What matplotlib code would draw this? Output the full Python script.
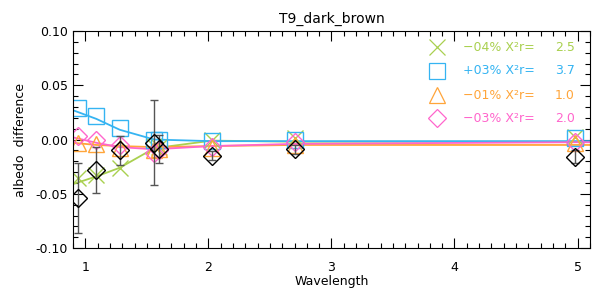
import numpy as np
import matplotlib
matplotlib.use("Agg")
import matplotlib.pyplot as plt
from matplotlib.ticker import MultipleLocator

# ---------------- data ----------------
wave = [0.94, 1.09, 1.28, 1.56, 1.60, 2.03, 2.70, 4.98]

obs     = [-0.054, -0.028, -0.010, -0.003, -0.009, -0.015, -0.009, -0.016]
obs_err = [0.032, 0.021, 0.013, 0.039, 0.013, 0.004, 0.004, 0.006]

green  = [-0.035, -0.033, -0.026, -0.006, -0.007, 0.000, 0.001, 0.002]
blue   = [0.029, 0.022, 0.011, 0.000, 0.000, -0.001, 0.000, 0.001]
orange = [-0.003, -0.004, -0.008, -0.010, -0.009, -0.008, -0.005, -0.003]
pink   = [0.003, 0.000, -0.005, -0.012, -0.010, -0.007, -0.002, -0.002]

# model curves
wave_mod   = [0.90, 1.09, 1.28, 1.56, 2.03, 2.70, 4.98, 5.10]
green_mod  = [-0.041, -0.034, -0.026, -0.008, -0.001, -0.002, -0.002, -0.002]
blue_mod   = [0.027, 0.019, 0.009, 0.000, -0.0015, -0.0015, -0.0015, -0.0015]
orange_mod = [-0.003, -0.005, -0.006, -0.007, -0.006, -0.005, -0.005, -0.005]
pink_mod   = [0.002, -0.003, -0.007, -0.009, -0.006, -0.004, -0.0025, -0.0025]

legend_pct  = ["\u221204%", "+03%", "\u221201%", "\u221203%"]
legend_chi2 = ["2.5", "3.7", "1.0", "2.0"]

c_green = "#a9d04f"
c_blue = "#35b4f2"
c_orange = "#ffa53a"
c_pink = "#ff66cc"

plt.rcParams["font.family"] = "DejaVu Sans"

fig = plt.figure(figsize=(5.97, 2.95), dpi=100)
ax = fig.add_axes([0.1223, 0.159, 0.8657, 0.736])

lw = 1.3
ax.plot(wave_mod, green_mod, color=c_green, lw=lw)
ax.plot(wave_mod, blue_mod, color=c_blue, lw=lw)
ax.plot(wave_mod, orange_mod, color=c_orange, lw=lw)
ax.plot(wave_mod, pink_mod, color=c_pink, lw=lw)

ms = 11
ax.plot(wave, green, ls="none", marker="x", ms=ms, mew=1.0, color=c_green)
ax.plot(wave, blue, ls="none", marker="s", ms=ms, mew=1.0, mfc="none", mec=c_blue)
ax.plot(wave, orange, ls="none", marker="^", ms=ms, mew=1.0, mfc="none", mec=c_orange)
ax.plot(wave, pink, ls="none", marker="D", ms=ms * 0.8, mew=1.0, mfc="none", mec=c_pink)

ax.errorbar(wave, obs, yerr=obs_err, fmt="none", ecolor="#555555", elinewidth=1.0,
            capsize=3, capthick=1.0)
ax.plot(wave, obs, ls="none", marker="D", ms=ms * 0.8, mew=1.0, mfc="none", mec="black")

# legend written as text, IDL style
colors = [c_green, c_blue, c_orange, c_pink]
markers = ["x", "s", "^", "D"]
rows = [0.926, 0.816, 0.705, 0.599]
for i in range(4):
    yf = rows[i]
    ax.plot([0.704], [yf], transform=ax.transAxes, marker=markers[i], ms=ms if i < 3 else ms * 0.8,
            mew=0.9, mfc="none", mec=colors[i], color=colors[i], ls="none", clip_on=False)
    ax.text(0.754, yf, legend_pct[i] + " X\u00b2r=", transform=ax.transAxes, color=colors[i],
            fontsize=9, va="center", ha="left")
    ax.text(0.971, yf, legend_chi2[i], transform=ax.transAxes, color=colors[i],
            fontsize=9, va="center", ha="right")

ax.set_xlim(0.9, 5.1)
ax.set_ylim(-0.1, 0.1)
ax.xaxis.set_major_locator(MultipleLocator(1))
ax.xaxis.set_minor_locator(MultipleLocator(0.1))
ax.yaxis.set_major_locator(MultipleLocator(0.05))
ax.yaxis.set_minor_locator(MultipleLocator(0.01))
ax.yaxis.set_major_formatter(matplotlib.ticker.FormatStrFormatter("%.2f"))
ax.tick_params(which="both", direction="in", top=True, right=True, labelsize=9, width=0.8)
ax.tick_params(which="major", length=7)
ax.tick_params(which="minor", length=3.5)
ax.tick_params(axis="x", pad=9)
for s in ax.spines.values():
    s.set_linewidth(0.8)

ax.set_xlabel("Wavelength", fontsize=9, labelpad=1)
ax.set_ylabel("albedo  difference", fontsize=9, labelpad=6)
ax.set_title("T9_dark_brown", fontsize=10, pad=6)

fig.savefig("out.png", dpi=100)
